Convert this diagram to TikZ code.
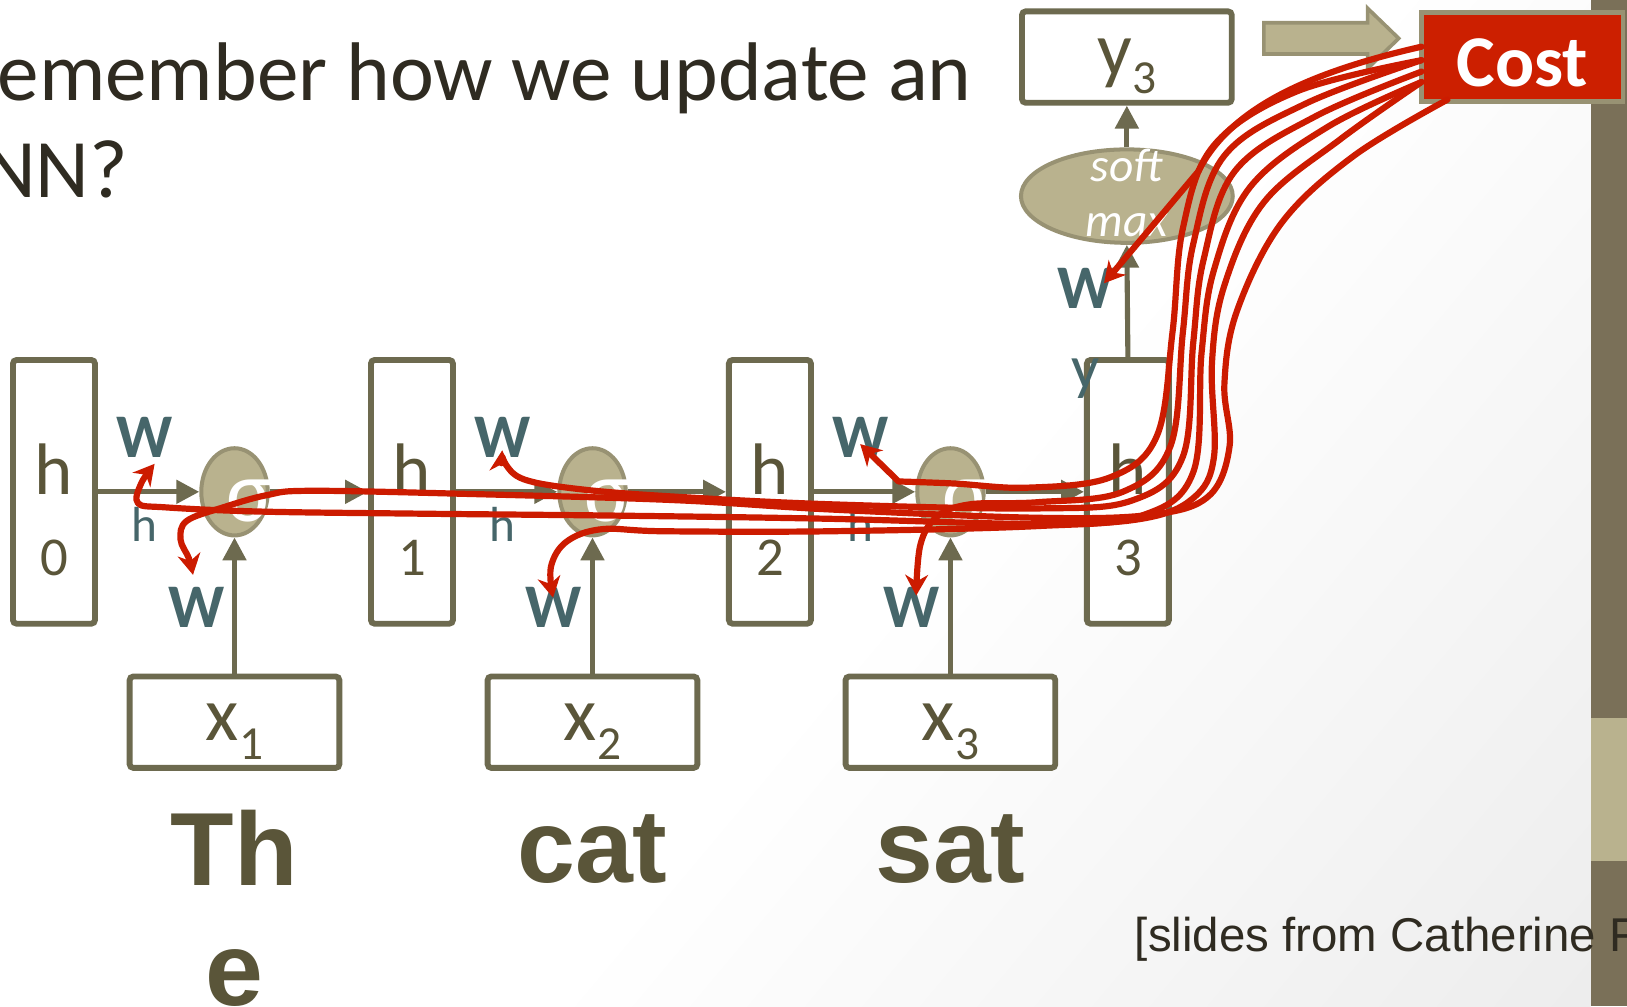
\documentclass[tikz,border=0pt]{standalone}
\usepackage{fontspec}
\setmainfont{Carlito}
\newfontfamily\arialfont{Liberation Sans}
\usetikzlibrary{arrows.meta,positioning,shapes.geometric,calc}

\definecolor{lineolive}{HTML}{6D6A4F}
\definecolor{textolive}{HTML}{5A5539}
\definecolor{khakifill}{HTML}{B9B28E}
\definecolor{khakiedge}{HTML}{989273}
\definecolor{labelteal}{HTML}{46666A}
\definecolor{titledark}{HTML}{2F2B21}
\definecolor{backred}{HTML}{CC1B00}
\definecolor{costred}{HTML}{CC1F00}
\definecolor{bandolive}{HTML}{7A7058}
\definecolor{slidegrey}{HTML}{E4E4E4}

% soft grey fall-off towards the lower right of the slide
\pgfdeclarehorizontalshading{slidebg}{100bp}{color(0bp)=(white); color(55bp)=(white); color(100bp)=(slidegrey)}

% lowered index for x_t and y_t
\newcommand{\lowidx}[1]{\raisebox{-5pt}{\fontsize{13}{13}\selectfont #1}}

\tikzset{
  hbox/.style={rectangle, rounded corners=1pt, draw=lineolive, line width=1.6pt,
    fill=white, minimum width=0.79cm, minimum height=2.54cm, inner sep=0pt},
  inbox/.style={rectangle, rounded corners=1pt, draw=lineolive, line width=1.6pt,
    fill=white, minimum width=2.02cm, minimum height=0.88cm, inner sep=0pt,
    text height=0.55cm, text depth=0.19cm,
    text=textolive, font=\fontsize{21}{21}\selectfont},
  boxletter/.style={inner sep=0pt, text=textolive, font=\fontsize{20}{20}\selectfont},
  boxdigit/.style={inner sep=0pt, text=textolive, font=\fontsize{15}{15}\selectfont},
  sigmanode/.style={ellipse, draw=khakiedge, line width=1.1pt, fill=khakifill,
    minimum width=0.64cm, minimum height=0.84cm, inner sep=0pt},
  sigmaglyph/.style={inner sep=0pt, text=white, font=\fontsize{24}{24}\selectfont},
  wlabel/.style={inner sep=0pt, text=labelteal, font=\bfseries\fontsize{17}{17}\selectfont},
  hlabel/.style={inner sep=0pt, text=labelteal, font=\fontsize{13.5}{14}\selectfont},
  word/.style={inner sep=0pt, text=textolive, align=center,
    font=\arialfont\bfseries\fontsize{28.5}{33}\selectfont},
  flowarrow/.style={draw=lineolive, line width=1.4pt, -{Triangle[length=2.2mm,width=2.2mm]}},
  backprop/.style={draw=backred, line width=1.7pt, line cap=round, line join=round},
  backtip/.style={backprop, -{Stealth[length=2mm,width=2.2mm]}},
}

\begin{document}
\begin{tikzpicture}[x=0.01cm, y=-0.01cm]
\useasboundingbox (0,0) rectangle (1568,970);
\clip (0,0) rectangle (1568,970);
\shade[shading=slidebg, shading angle=-40] (0,0) rectangle (1533,970);

% title
\node[anchor=base west, inner sep=0pt, text=titledark, font=\fontsize{22.8}{27}\selectfont]
  (title1) at (-3,97) {emember how we update an};
\node[anchor=base west, inner sep=0pt, text=titledark, font=\fontsize{22.8}{27}\selectfont]
  (title2) at (-18,190) {NN?};

% hidden states
\foreach \i in {0,...,3}{
  \pgfmathsetmacro{\hx}{52+345*\i}
  \node[hbox] (h\i) at (\hx,474) {};
  \node[boxletter, anchor=base] (hl\i) at (\hx,477) {h};
  \node[boxdigit, anchor=base] (hn\i) at (\hx,555) {\i};
}

% one sigma cell per time step
\foreach \i [remember=\i as \j (initially 0)] in {1,2,3}{
  \pgfmathsetmacro{\sx}{226+345*(\i-1)}
  \node[sigmanode] (sig\i) at (\sx,474) {};
  \node[sigmaglyph] (sg\i) at ($(sig\i)+(15,9)$) {σ};
  \node[inbox] (x\i) at (\sx,696) {x\lowidx{\i}};
  \draw[flowarrow] (h\j.east) -- (sig\i.west);
  \draw[flowarrow] (sig\i.east) -- (h\i.west);
  \draw[flowarrow] (x\i.north) -- (sig\i.south);
  \node[wlabel] (whh\i) at ($(h\j)+(87,-52)$) {W};
  \node[hlabel] (hsub\i) at ($(h\j)+(87,31)$) {h};
  \node[wlabel] (wxh\i) at ($(sig\i)+(-37,111)$) {W};
}

\node[word, below=0.37cm of x1] (word1) {Th\\e};
\node[word, below=0.42cm of x2] (word2) {cat};
\node[word, below=0.42cm of x3] (word3) {sat};

% output on top of the last step
\node[sigmanode, minimum width=2.04cm, minimum height=0.9cm] (smax) at (1086,189) {};
\node[inner sep=0pt, text=white, align=center, font=\itshape\fontsize{13}{15}\selectfont]
  (smaxtext) at (1086,186) {soft\\max};
\node[inbox] (y3) at (1086,55) {y\lowidx{3}};
\draw[flowarrow] (h3.north) -- (smax.south);
\draw[flowarrow] (smax.north) -- (y3.south);
\node[wlabel] (why) at (1046,278) {W};
\node[wlabel, font=\fontsize{17}{17}\selectfont] (ysub) at (1046,365) {y};

\fill[khakifill, draw=khakiedge, line width=1pt] (1218,22) -- (1318,22) -- (1318,8)
  -- (1348,37) -- (1318,66) -- (1318,52) -- (1218,52) -- cycle;

% side band and credit line
\fill[bandolive] (1533,0) rectangle (1568,970);
\fill[khakifill] (1533,692) rectangle (1568,830);
\node[anchor=base west, inner sep=0pt, text=titledark, font=\arialfont\fontsize{13}{15}\selectfont]
  (credit) at (1093,917) {[slides from Catherine F};

\node[draw=khakiedge, line width=1.3pt, fill=costred, text=white, minimum width=1.94cm,
  minimum height=0.86cm, text height=0.58cm, inner sep=0pt,
  font=\bfseries\fontsize{20}{20}\selectfont] (cost) at (1467,55) {Cost};

% gradients flowing back from the cost
\draw[backtip] (1370,45) .. controls (1260,70) and (1185,105) .. (1155,165) -- (1064,273);
\draw[backtip] plot[smooth, tension=0.6] coordinates {(1370,58) (1250,88) (1170,140)
  (1140,220) (1130,320) (1115,420) (1070,460) (990,470) (920,466) (866,464)} -- (829,428);
\draw[backtip] plot[smooth, tension=0.6] coordinates {(1370,58) (1258,100) (1180,150)
  (1150,235) (1140,320) (1128,430) (1082,474) (1000,484) (935,486) (903,498) (887,525) (883,574)};
\draw[backtip] plot[smooth, tension=0.6] coordinates {(1370,69) (1268,112) (1190,165)
  (1160,250) (1150,330) (1140,440) (1092,482) (1000,490) (800,486) (640,478) (555,471)
  (505,462) (487,447) (484,434)};
\draw[backtip] plot[smooth, tension=0.6] coordinates {(1370,79) (1280,122) (1205,180)
  (1170,260) (1158,340) (1150,455) (1100,497) (1000,507) (800,512) (640,512) (580,510)
  (546,522) (531,546) (533,576)};
\draw[backtip] plot[smooth, tension=0.6] coordinates {(1370,79) (1292,134) (1218,195)
  (1180,275) (1168,350) (1170,440) (1150,480) (1100,500) (1000,505) (800,500) (600,497)
  (400,495) (250,493) (160,489) (133,485) (136,466) (149,447)};
\draw[backtip] plot[smooth, tension=0.6] coordinates {(1395,96) (1305,150) (1235,215)
  (1192,300) (1180,370) (1185,430) (1165,478) (1110,496) (1000,499) (800,491) (650,482)
  (450,476) (300,473) (258,477) (215,489) (180,502) (174,520) (182,538) (186,554)};
\end{tikzpicture}
\end{document}
